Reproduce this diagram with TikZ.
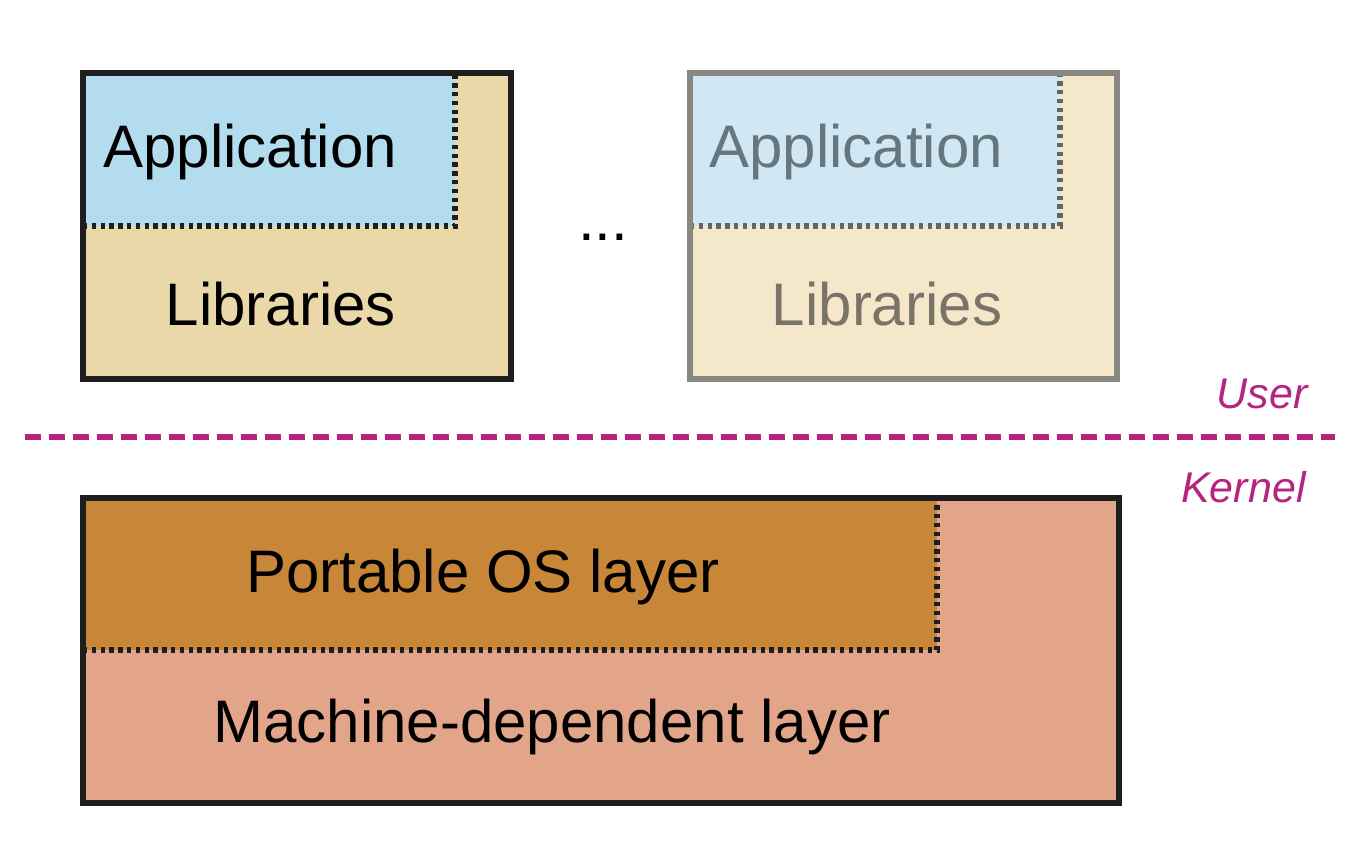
\documentclass[tikz,border=0pt]{standalone}
\usepackage{fontspec}
\setmainfont{Liberation Sans}
\definecolor{tanA}{RGB}{235,216,168}
\definecolor{blueA}{RGB}{179,220,238}
\definecolor{tanB}{RGB}{244,231,202}
\definecolor{blueB}{RGB}{207,232,243}
\definecolor{grayB}{RGB}{136,136,130}
\definecolor{txtAppB}{RGB}{102,118,126}
\definecolor{txtLibB}{RGB}{122,116,104}
\definecolor{orangeK}{RGB}{200,134,56}
\definecolor{salmonK}{RGB}{226,165,138}
\definecolor{magentaL}{RGB}{181,37,128}
\definecolor{edgeK}{RGB}{30,30,30}
\begin{document}
\begin{tikzpicture}[x=0.5pt,y=-0.5pt,
  outerbox/.style={line width=2.7pt},
  dotbound/.style={line width=2.6pt,dash pattern=on 2.2pt off 2.2pt},
  bigtext/.style={font=\fontsize{30}{36}\selectfont,anchor=base,inner sep=0pt},
  sidetext/.style={font=\fontsize{21.5}{26}\selectfont\itshape,anchor=base east,inner sep=0pt,text=magentaL}]
\useasboundingbox (0,0) rectangle (1370,852);
% Box 1
\fill[tanA] (83,73) rectangle (511,379);
\fill[blueA] (83,73) rectangle (455,226);
\draw[dotbound,edgeK] (83,226) -- (455,226) -- (455,73);
\draw[outerbox,edgeK] (83,73) rectangle (511,379);
\node[bigtext,anchor=base west] (app1) at (103,167) {Application};
\node[bigtext] (lib1) at (281,325) {Libraries};
% dots
\node[bigtext] (dots) at (603,240) {...};
% Box 2
\fill[tanB] (690,73) rectangle (1117,379);
\fill[blueB] (690,73) rectangle (1060,226);
\draw[dotbound,grayB!75!black] (690,226) -- (1060,226) -- (1060,73);
\draw[outerbox,grayB] (690,73) rectangle (1117,379);
\node[bigtext,anchor=base west,text=txtAppB] (app2) at (709,167) {Application};
\node[bigtext,text=txtLibB] (lib2) at (887,325) {Libraries};
% separator
\coordinate (sepL) at (25,437);
\coordinate (sepR) at (1335,437);
\draw[magentaL,line width=2.8pt,dash pattern=on 8pt off 4pt] (sepL) -- (sepR);
\node[sidetext] (user) at (1308,408) {User};
\node[sidetext] (kernel) at (1306,502) {Kernel};
% Kernel box
\fill[salmonK] (83,498) rectangle (1119,803);
\fill[orangeK] (83,498) rectangle (937,650);
\draw[dotbound,edgeK] (83,650) -- (937,650) -- (937,498);
\draw[outerbox,edgeK] (83,498) rectangle (1119,803);
\node[bigtext] (pos) at (483,592) {Portable OS layer};
\node[bigtext] (mdl) at (552,742) {Machine-dependent layer};
\end{tikzpicture}
\end{document}
